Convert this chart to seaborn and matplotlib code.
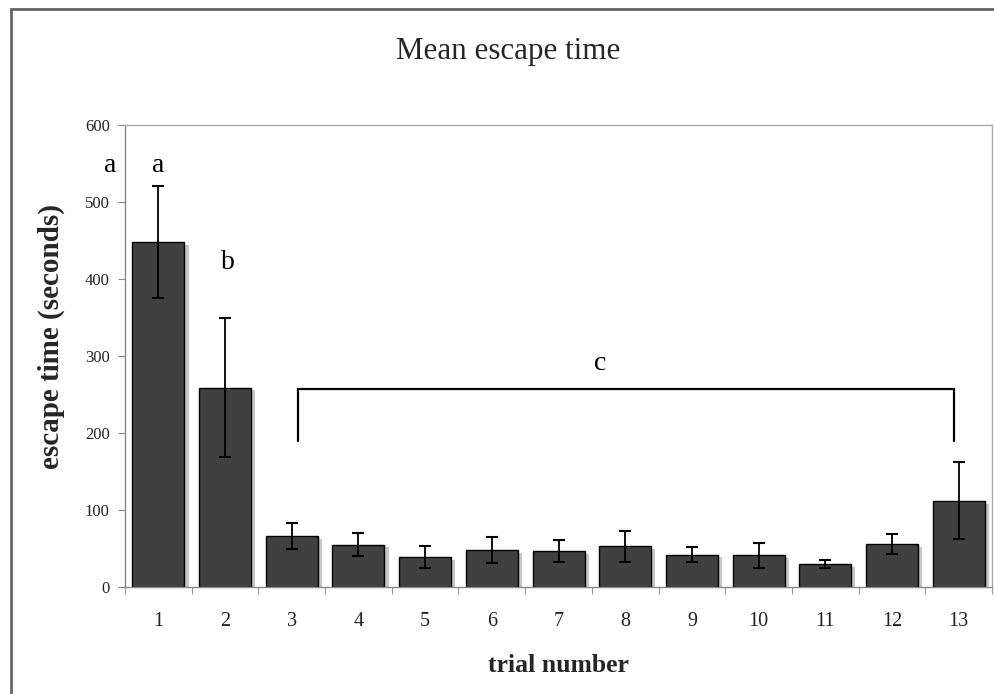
import matplotlib
matplotlib.use("Agg")
import matplotlib.pyplot as plt
import matplotlib.patheffects as pe
from matplotlib.patches import Rectangle
import numpy as np
import pandas as pd
import seaborn as sns

# Mean escape time per trial with error bars (seconds)
trials = ["1", "2", "3", "4", "5", "6", "7", "8", "9", "10", "11", "12", "13"]
mean_time = [448, 259, 66, 55, 39, 48, 47, 53, 42, 41, 30, 56, 112]
err_time = [73, 90, 17, 15, 14, 17, 14, 20, 10, 16, 5, 13, 50]

# Significance group letters and the bracket over trials 3-13
group_labels = ["a", "a", "b", "c"]
group_x = [-0.73, 0.0, 1.05, 6.62]
group_y = [547, 547, 421, 290]
bracket_x = [2.1, 11.93]
bracket_top = 257
bracket_bottom = 190

sns.set_theme(style="white")
plt.rcParams["font.family"] = ["Liberation Serif", "DejaVu Serif"]

df = pd.DataFrame({"trial": trials, "time": mean_time})

fig = plt.figure(figsize=(9.94, 6.94), dpi=100)
ax = fig.add_axes([0.1258, 0.1542, 0.8722, 0.6657])

sns.barplot(data=df, x="trial", y="time", order=trials, errorbar=None,
            color="#404040", saturation=1, width=0.78,
            edgecolor="black", linewidth=1.0, ax=ax)

for bar in ax.patches:
    bar.set_facecolor("#404040")
    bar.set_path_effects([
        pe.SimplePatchShadow(offset=(3, -2), shadow_rgbFace="#b8b8b8", alpha=0.8),
        pe.Normal(),
    ])

pos = np.arange(len(trials))
ax.errorbar(pos, mean_time, yerr=err_time, fmt="none", ecolor="black",
            elinewidth=1.3, capsize=4, capthick=1.5, zorder=5)

ax.set_xlim(-0.5, len(trials) - 0.5)
ax.set_ylim(0, 600)
ax.set_yticks(range(0, 601, 100))
ax.set_xticks(pos)
ax.set_xticklabels(trials)
ax.set_xticks(np.arange(-0.5, len(trials), 1.0), minor=True)
ax.tick_params(axis="x", which="major", length=0, pad=18, labelsize=14.5, colors="#222222")
ax.tick_params(axis="x", which="minor", length=5, width=0.8, color="#999999", direction="out", bottom=True)
ax.tick_params(axis="y", length=5, width=0.8, color="#888888", direction="out", left=True,
               pad=6, labelsize=12, labelcolor="#222222")
ax.set_xlabel("")
ax.set_ylabel("")

for side in ["left", "bottom"]:
    ax.spines[side].set_color("#888888")
    ax.spines[side].set_linewidth(1.0)
for side in ["top", "right"]:
    ax.spines[side].set_color("#aaaaaa")
    ax.spines[side].set_linewidth(1.0)

# group letters
for lab, gx, gy in zip(group_labels, group_x, group_y):
    ax.text(gx, gy, lab, ha="center", va="center", fontsize=20, color="black", clip_on=False)

# bracket spanning trials 3-13
ax.plot([bracket_x[0], bracket_x[0], bracket_x[1], bracket_x[1]],
        [bracket_bottom, bracket_top, bracket_top, bracket_bottom],
        color="black", linewidth=1.6, solid_joinstyle="miter", zorder=6)

fig.text(0.511, 0.9146, "Mean escape time", ha="center", va="baseline", fontsize=22.3)
fig.text(0.5614, 0.0321, "trial number", ha="center", va="baseline", fontsize=18.5, fontweight="bold")
fig.text(0.052, 0.515, "escape time (seconds)", ha="center", va="center", rotation=90,
         fontsize=21, fontweight="bold")

# outer chart frame
fig.patches.append(Rectangle((11 / 994, -0.05), 1.2, 1 - 9 / 694 + 0.05,
                             transform=fig.transFigure, fill=False,
                             edgecolor="#666666", linewidth=2.0))

fig.savefig("out.png", dpi=100, facecolor="white")
